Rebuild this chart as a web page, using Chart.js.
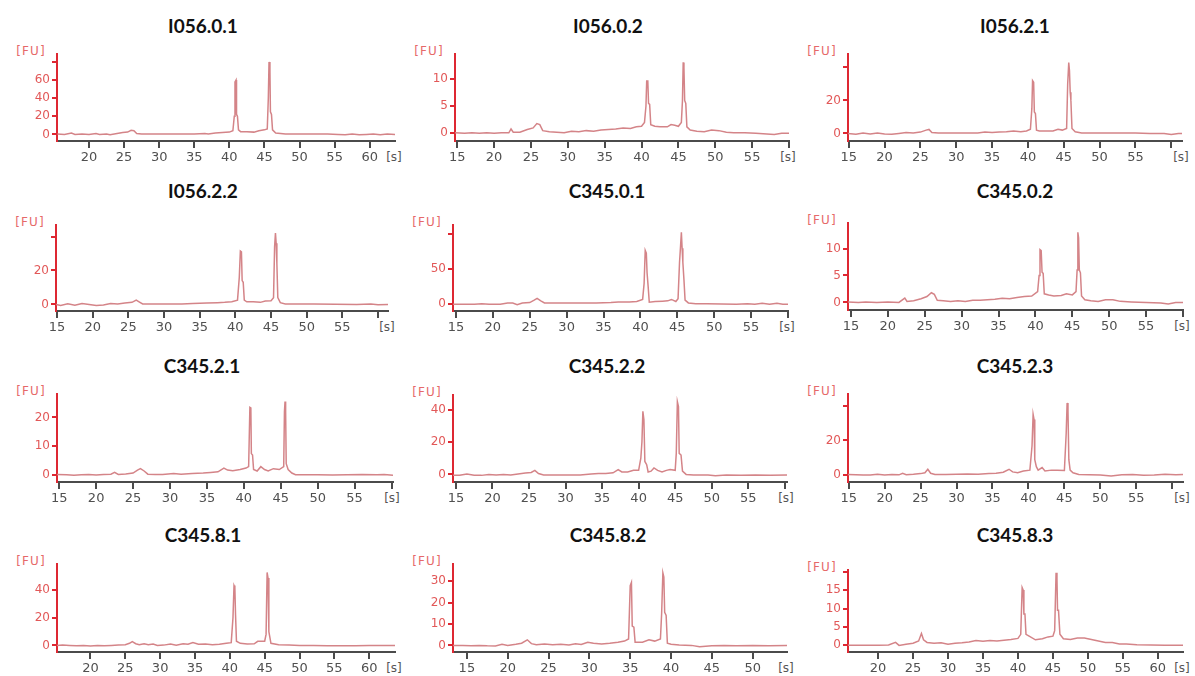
<!DOCTYPE html>
<html>
<head>
<meta charset="utf-8">
<script src="https://cdn.jsdelivr.net/npm/chart.js@4.4.0/dist/chart.umd.min.js"></script>
<style>
  body { margin: 0; background: #fff; width: 1195px; height: 676px; position: relative; overflow: hidden; font-family: 'DejaVu Sans', sans-serif; }
  .title { position: absolute; font-family: Lato, 'Open Sans', sans-serif; font-weight: bold; font-size: 19px; color: #111; transform: translate(-50%, -50%); white-space: nowrap; }
  .fu { position: absolute; font-size: 12px; letter-spacing: 1.2px; color: rgb(230, 105, 105); transform: translate(-100%, -50%); white-space: nowrap; }
  .sec { position: absolute; font-size: 12px; color: rgb(85, 85, 85); transform: translate(-50%, -50%); white-space: nowrap; }
  .box { position: absolute; }
</style>
</head>
<body>
<script>
// panel names, row by row
const panelTitles = ['I056.0.1', 'I056.0.2', 'I056.2.1',
                     'I056.2.2', 'C345.0.1', 'C345.0.2',
                     'C345.2.1', 'C345.2.2', 'C345.2.3',
                     'C345.8.1', 'C345.8.2', 'C345.8.3'];

// y ticks ('' = tick mark without a label)
const yTickVals = [[0, 20, 40, 60, 80], [0, 5, 10], [0, 20, 40],
                   [0, 20, 40], [0, 50, 100], [0, 5, 10],
                   [0, 10, 20], [0, 20, 40], [0, 20, 40],
                   [0, 20, 40], [0, 10, 20, 30], [0, 5, 10, 15, 20]];
const yTickText = [['0', '20', '40', '60', ''], ['0', '5', '10'], ['0', '20', ''],
                   ['0', '20', ''], ['0', '50', ''], ['0', '5', '10'],
                   ['0', '10', '20'], ['0', '20', '40'], ['0', '20', ''],
                   ['0', '20', '40'], ['0', '10', '20', '30'], ['0', '5', '10', '15', '']];

// x ticks in seconds
const xTicks20to60 = [20, 25, 30, 35, 40, 45, 50, 55, 60];
const xText20to60 = ['20', '25', '30', '35', '40', '45', '50', '55', '60'];
const xTicks15to60 = [15, 20, 25, 30, 35, 40, 45, 50, 55, 60];
const xText15to55 = ['15', '20', '25', '30', '35', '40', '45', '50', '55', ''];
const xTicks15to50 = [15, 20, 25, 30, 35, 40, 45, 50];
const xText15to50 = ['15', '20', '25', '30', '35', '40', '45', '50'];

// traces: [time s, FU]
const traceI056_01 = [[15.5,0.5],[16.5,0],[17.5,1.5],[18,0],[19,0.3],[20,0],[21,1],[21.5,0],[22.5,0.5],[23,-0.3],[24,1],[24.8,2],[25.5,2.5],[26,4.5],[26.4,4],[26.8,1],[27.5,0.5],[29,0.3],[31,0.5],[33,0.3],[35,0.5],[36.5,1],[37,0.5],[38,1.5],[39,2],[40,2.5],[40.5,4],[40.7,20],[40.8,58],[40.95,60],[41.02,22],[41.15,20],[41.3,5],[41.6,3],[42.5,3],[43.5,2.5],[44.2,4],[45,5],[45.4,6],[45.55,40],[45.65,80],[45.78,70],[45.85,25],[46.0,22],[46.15,5],[46.6,1.5],[48,0.5],[50,0.5],[52,0.3],[54,0.5],[55.5,0],[56.5,-0.5],[57.5,0.5],[58.5,-0.5],[59.5,0],[60.5,0.5],[61.5,-0.3],[62.5,0.5],[63.6,0]];
const traceI056_02 = [[14.7,0.1],[16,0],[17,0.1],[18,0],[19,0.1],[20,0],[21,0.1],[22,0.1],[22.3,0.8],[22.6,0.2],[23.5,0.2],[24.5,0.7],[25.3,1],[25.8,1.8],[26.2,1.6],[26.6,0.5],[27.5,0.3],[28.5,0.2],[29.5,0.1],[30.5,0.4],[31.5,0.3],[32.5,0.5],[33.5,0.4],[34.5,0.6],[35.5,0.7],[36.5,0.8],[37.5,1],[38.5,0.9],[39.3,1.2],[40,1.3],[40.4,2],[40.6,5],[40.7,9.6],[40.85,9.6],[40.95,5.5],[41.1,5.3],[41.25,1.6],[41.8,1.3],[42.5,1.2],[43.5,1.2],[44,1.6],[44.5,1.5],[45,1.3],[45.4,2],[45.55,6],[45.65,13],[45.75,12],[45.85,6],[46.0,5.5],[46.15,1.2],[46.6,0.6],[47.5,0.4],[48.5,0.3],[49.5,0.6],[50.5,0.5],[51.5,0.2],[52.5,0.1],[54,0.1],[55.5,0],[57,-0.1],[58,-0.2],[59,0],[60,0]];
const traceI056_21 = [[14.9,0],[16,-0.5],[17,0.2],[18,-0.3],[19,0.3],[20,-0.4],[21,-0.5],[22,0],[23,0.5],[24,0.3],[25,0.8],[25.8,2],[26.2,2.4],[26.6,0.5],[27.5,0.2],[29,0.2],[31,0.2],[33,0.3],[34,0.8],[35,0.5],[36,0.8],[37,1],[38,1.5],[39,1],[39.8,1.5],[40.35,2.5],[40.55,15],[40.65,32],[40.8,31],[40.9,13],[41.05,12],[41.2,2],[41.6,1.5],[42.5,1.5],[43.5,1.5],[44.2,2.5],[44.8,2],[45.4,3],[45.55,30],[45.7,43],[45.8,38],[45.9,25],[46.0,20],[46.15,3],[46.6,1],[47.5,0.3],[49,0.2],[51,0.2],[53,0.2],[55,0.2],[57,0],[59,0],[60,-0.6],[61,0],[61.5,0]];
const traceI056_22 = [[14.85,0],[15.5,-0.6],[16.5,0.3],[17.5,-0.5],[18.5,0.5],[19.5,0],[20.5,-0.6],[21.5,-0.3],[22.5,0.5],[23.5,0.3],[24.5,0.8],[25.5,1.2],[26.1,2.5],[26.5,1.5],[27,0.3],[28.5,0.2],[30.5,0.2],[32.5,0.3],[34,0.5],[35,0.7],[36,0.8],[37.5,1],[38.5,1.2],[39.5,1.5],[40.3,2.5],[40.55,16],[40.7,31.5],[40.85,31],[40.95,14],[41.1,13],[41.25,2.5],[41.6,1.5],[42.5,1.5],[43.5,1.2],[44.2,2],[45,2.2],[45.35,4],[45.5,34],[45.62,42],[45.72,36],[45.82,24],[45.95,4],[46.3,1],[47,0.3],[48.5,0.2],[51,0.2],[54,0.1],[57,0],[59,0.2],[60,-0.2],[61.4,0]];
const traceC345_01 = [[14.6,0],[16,0],[17.5,0],[18.5,1],[19.5,0],[21,0],[22,2],[22.7,2],[23.3,-0.5],[24,2],[25,2.5],[25.6,6],[26,8.5],[26.5,5],[27,2],[28,2],[30,2],[32,2],[34,2],[36,2.5],[37,3.5],[38.5,3.5],[39.5,4],[40.3,7],[40.5,30],[40.65,77],[40.8,73],[40.9,45],[41.05,25],[41.2,3],[42,4],[43,4.5],[43.7,5],[44.2,7],[44.8,4],[45.1,8],[45.3,60],[45.45,85],[45.55,103],[45.65,80],[45.75,60],[45.9,35],[46.05,6],[46.5,2],[47.5,1],[49,1],[51,0.5],[53,0],[54.5,1],[55.5,0],[56.5,1.5],[57.5,0],[58.5,1.5],[59.3,0],[60,0]];
const traceC345_02 = [[14.6,0.1],[16,0],[17,0.1],[18.5,0],[20,0.1],[21.5,0],[22.3,0.8],[22.6,0.2],[23.5,0.3],[24.5,0.7],[25.3,1.1],[25.9,1.8],[26.3,1.5],[26.7,0.4],[27.5,0.3],[28.5,0.2],[29.5,0.3],[30.5,0.2],[31.5,0.4],[32.5,0.4],[33.5,0.5],[34.5,0.6],[35.5,0.8],[36.5,0.7],[37.5,0.9],[38.5,1.1],[39.5,1.2],[40.3,2],[40.5,5],[40.62,9.8],[40.78,9.6],[40.9,5.6],[41.05,5.4],[41.2,1.6],[41.8,1.4],[42.5,1.2],[43.5,1.3],[44.2,1.6],[45,1.4],[45.5,2],[45.65,6],[45.75,13],[45.85,12],[45.95,6],[46.1,5.5],[46.25,1.2],[46.7,0.5],[47.5,0.3],[48.5,0.2],[49.5,0.5],[50.5,0.5],[51.5,0.2],[53,0.1],[55,0],[57,-0.1],[58,-0.3],[59,0],[60,0]];
const traceC345_21 = [[14.7,0.3],[16,0.2],[17,0],[18,0.2],[19,0.3],[20,0.1],[21,0.3],[22,0.4],[22.5,1],[23,0.3],[24,0.5],[25,0.8],[25.6,1.8],[26,2.3],[26.5,1.5],[27,0.4],[28,0.3],[29,0.3],[30.5,0.6],[31.5,0.4],[33,0.6],[34.5,0.8],[35.5,1],[36.5,1.2],[37.3,2.5],[37.8,1.8],[38.5,1.6],[39.5,2],[40.3,2.5],[40.65,3],[40.82,23.5],[40.95,23.3],[41.02,7.5],[41.18,7],[41.32,2],[41.8,1.5],[42.3,3],[42.8,2],[43.3,1.5],[44,2.3],[44.8,2],[45.4,3],[45.5,22],[45.58,25.5],[45.66,22],[45.74,4],[46,2],[46.5,0.8],[47,0.2],[48,0.2],[50,0.2],[52,0.1],[54,0.2],[56,0.3],[58,0.2],[59,0.3],[60.2,0]];
const traceC345_22 = [[14.6,-0.5],[15.5,-0.5],[16.5,0.2],[17.5,-0.5],[18.5,-0.6],[19.5,0],[20.5,-0.3],[21.5,0],[22.5,-0.3],[23.5,0.3],[24.5,0.8],[25.3,1.2],[25.8,2.5],[26.3,0.5],[27,-0.3],[28,-0.3],[30,-0.3],[32,-0.3],[33.5,0.3],[34.5,0.5],[35.5,0.6],[36.5,1],[37.2,3],[37.7,1.5],[38.5,1.5],[39.3,2.5],[40,2.5],[40.3,10],[40.45,20],[40.58,39],[40.72,34],[40.85,8],[41.1,6],[41.3,1.5],[41.7,2],[42.1,4],[42.6,2.5],[43.2,1.5],[43.8,2.5],[44.3,3],[45,2.5],[45.15,13],[45.3,45],[45.45,42],[45.55,13],[45.8,12],[46,2],[46.5,0],[47.5,-0.3],[49.5,-0.3],[50.5,-0.8],[52,-0.3],[54,-0.5],[56,-0.3],[58,-0.5],[60.3,-0.3]];
const traceC345_23 = [[14.9,0.5],[16,0.3],[17,0.2],[18,0.2],[19,0.6],[20,0.2],[21,0.5],[22,0.3],[22.5,1.2],[23,0.4],[24,0.6],[25,1],[25.6,1.5],[26,3.5],[26.4,1.2],[27,0.5],[28.5,0.5],[30,0.6],[31.5,0.8],[33,0.7],[34.5,1],[35.5,1.2],[36.5,1.8],[37.3,3.5],[37.8,2],[38.5,1.5],[39.3,2.5],[40.2,3],[40.5,17],[40.65,35],[40.78,32],[40.88,9],[41.1,5],[41.35,3],[41.9,4.5],[42.3,2.5],[43.2,3],[44,3],[45,2.8],[45.25,24],[45.38,41.5],[45.5,37],[45.62,9],[45.8,3],[46.2,1.5],[47,0.5],[48.5,0.4],[50,0.2],[51.5,-0.4],[53,0.3],[54.5,0.5],[56,0],[57.5,0.2],[59,0.6],[60.5,0.3],[61.5,0.5]];
const traceC345_81 = [[15.2,0],[16,0.2],[17,0],[18,-0.3],[19,0],[20,-0.5],[21,0],[22,-0.3],[23,0],[24,0.2],[25,0.5],[25.6,1.5],[26,2.8],[26.5,1.2],[27,0.5],[27.7,1.2],[28.3,0.5],[29,1],[29.6,0],[30.5,0.2],[31.5,1],[32.3,0.2],[33.3,1.2],[34,0.8],[34.7,2],[35.5,0.8],[36.5,1],[37.5,0.5],[38.5,0.8],[39.5,1.5],[40.2,2],[40.45,20],[40.6,43.5],[40.72,42],[40.82,22],[40.95,3],[41.5,1.5],[42.5,1],[43.5,1.2],[44,3],[45,3],[45.2,8],[45.35,53],[45.48,49],[45.6,10],[45.9,1.5],[47,0.5],[48.5,0.2],[50,0],[52,0],[54,-0.3],[56,-0.3],[58,-0.3],[60,0],[62,0],[63.7,0]];
const traceC345_82 = [[13.3,0],[14.5,0],[15.5,-0.2],[16.5,0],[17.5,-0.2],[18.5,-0.3],[19.3,0.5],[20,0],[21,0.5],[21.7,1],[22.4,2.6],[22.9,0.8],[23.5,0.3],[24.5,0.6],[25.5,0.3],[26.5,0.5],[27.5,0.2],[28.3,0.8],[29,0.4],[29.8,1.5],[30.5,1],[31.5,0.7],[32.5,1],[33.5,1.5],[34.3,2],[34.8,3],[35.0,28],[35.15,29.5],[35.25,9],[35.45,8.5],[35.6,1.5],[36.5,1.5],[37.3,2.6],[38,2],[38.7,3],[38.85,15],[39.0,34],[39.12,32],[39.22,15.5],[39.4,14],[39.55,1],[40,0.5],[41,0.2],[42.5,0],[43.5,-0.6],[45,-0.2],[46.5,0],[48,-0.2],[50,0],[52,-0.2],[54.2,0]];
const traceC345_83 = [[15.7,0],[17,0],[18.5,0],[20,0],[21.5,0.1],[22.5,0.8],[23,0],[24,0.3],[25,0.6],[25.8,1.2],[26.2,3.2],[26.5,1.5],[27,0.8],[28,0.6],[29,0.7],[30,0.3],[31,0.6],[32,0.7],[33,0.9],[34,1.3],[35,1.1],[36,1.3],[37,1.2],[38,1.4],[39,1.6],[40,1.9],[40.4,3],[40.6,15.7],[40.75,15],[40.85,8.5],[41.0,8.5],[41.15,3],[41.6,2.5],[42.5,1.5],[43.5,1.8],[44.3,2.3],[45,2.5],[45.25,4],[45.45,19.7],[45.58,18],[45.66,9.5],[45.8,9.5],[46,3],[46.5,1.8],[47.5,1.6],[48.5,2],[49.5,2],[50.5,1.6],[51.5,1.2],[52.5,0.8],[53.5,0.8],[54.5,0.4],[55.5,0.4],[57,0.2],[59,0.1],[61,0],[63.6,0]];

const traces = [traceI056_01, traceI056_02, traceI056_21,
                traceI056_22, traceC345_01, traceC345_02,
                traceC345_21, traceC345_22, traceC345_23,
                traceC345_81, traceC345_82, traceC345_83];
const xTickVals = [xTicks20to60, xTicks15to60, xTicks15to60,
                   xTicks15to60, xTicks15to60, xTicks15to60,
                   xTicks15to60, xTicks15to60, xTicks15to60,
                   xTicks20to60, xTicks15to50, xTicks20to60];
const xTickText = [xText20to60, xText15to55, xText15to55,
                   xText15to55, xText15to55, xText15to55,
                   xText15to55, xText15to55, xText15to55,
                   xText20to60, xText15to50, xText20to60];

// layout: axis box in page pixels, axis ranges, title centre
const frames = [
    { l: 57, r: 395, t: 49, b: 141, x0: 15.44, x1: 63.6, y0: -7.3, y1: 88.5, tx: 203, ty: 25 },
    { l: 455, r: 789, t: 49, b: 141, x0: 14.7, x1: 60, y0: -1.4, y1: 14.5, tx: 608, ty: 25 },
    { l: 848, r: 1182, t: 49, b: 141, x0: 14.9, x1: 61.5, y0: -4.6, y1: 48, tx: 1015, ty: 25 },
    { l: 56, r: 388, t: 220, b: 311, x0: 14.85, x1: 61.4, y0: -3.9, y1: 46.7, tx: 203, ty: 190 },
    { l: 453, r: 788, t: 220, b: 311, x0: 14.6, x1: 60, y0: -9.5, y1: 113, tx: 607, ty: 190 },
    { l: 848, r: 1183, t: 218, b: 310, x0: 14.6, x1: 60, y0: -1.4, y1: 14.7, tx: 1015, ty: 190 },
    { l: 57, r: 393, t: 389, b: 482, x0: 14.7, x1: 60.2, y0: -2.3, y1: 28, tx: 202, ty: 365 },
    { l: 453, r: 787, t: 390, b: 482, x0: 14.6, x1: 60.3, y0: -4.7, y1: 49, tx: 607, ty: 365 },
    { l: 848, r: 1183, t: 389, b: 482, x0: 14.9, x1: 61.5, y0: -3.8, y1: 46.5, tx: 1015, ty: 365 },
    { l: 57, r: 395, t: 559, b: 652, x0: 15.2, x1: 63.7, y0: -4.8, y1: 59, tx: 203, ty: 534 },
    { l: 453, r: 787, t: 559, b: 652, x0: 13.3, x1: 54.2, y0: -3.1, y1: 38, tx: 608, ty: 534 },
    { l: 848, r: 1183, t: 565, b: 652, x0: 15.7, x1: 63.6, y0: -1.8, y1: 20.4, tx: 1015, ty: 534 }
];

const traceColor = 'rgb(212, 132, 136)';
const yAxisColor = 'rgb(222, 40, 50)';
const yLabelColor = 'rgb(226, 88, 88)';
const xAxisColor = 'rgb(75, 75, 75)';

function addText(cls, text, x, y) {
    const d = document.createElement('div');
    d.className = cls;
    d.textContent = text;
    d.style.left = x + 'px';
    d.style.top = y + 'px';
    document.body.appendChild(d);
}

const Y_W = 50, X_H = 30, PAD = 4;

panelTitles.forEach((name, i) => {
    const f = frames[i];
    addText('title', name, f.tx, f.ty);
    addText('fu', '[FU]', f.l - 11, f.t + 2);
    addText('sec', '[s]', f.r - 1, f.b + 16);

    const left = f.l - Y_W, top = f.t - PAD;
    const w = f.r + PAD - left, h = f.b + X_H - top;
    const box = document.createElement('div');
    box.className = 'box';
    box.style.left = left + 'px';
    box.style.top = top + 'px';
    const canvas = document.createElement('canvas');
    canvas.width = w;
    canvas.height = h;
    box.appendChild(canvas);
    document.body.appendChild(box);

    new Chart(canvas, {
        type: 'line',
        data: {
            datasets: [{
                data: traces[i].map(p => ({ x: p[0], y: p[1] })),
                borderColor: traceColor,
                borderWidth: 1.5,
                pointRadius: 0,
                tension: 0,
                fill: false
            }]
        },
        options: {
            responsive: false,
            animation: false,
            events: [],
            layout: { padding: { top: PAD, right: PAD, left: 0, bottom: 0 } },
            plugins: { legend: { display: false }, tooltip: { enabled: false } },
            scales: {
                x: {
                    type: 'linear',
                    min: f.x0,
                    max: f.x1,
                    afterBuildTicks: ax => { ax.ticks = xTickVals[i].map(v => ({ value: v })); },
                    afterFit: ax => { ax.height = X_H; },
                    ticks: {
                        autoSkip: false,
                        maxRotation: 0,
                        padding: 2,
                        color: 'rgb(80, 80, 80)',
                        font: { family: 'DejaVu Sans', size: 13 },
                        callback: (v, idx) => xTickText[i][idx]
                    },
                    grid: { drawOnChartArea: false, drawTicks: true, tickLength: 7, color: xAxisColor, lineWidth: 2 },
                    border: { display: true, color: xAxisColor, width: 2 }
                },
                y: {
                    type: 'linear',
                    min: f.y0,
                    max: f.y1,
                    afterBuildTicks: ax => { ax.ticks = yTickVals[i].map(v => ({ value: v })); },
                    afterFit: ax => { ax.width = Y_W; },
                    ticks: {
                        autoSkip: false,
                        padding: 2,
                        color: yLabelColor,
                        font: { family: 'DejaVu Sans', size: 12 },
                        callback: (v, idx) => yTickText[i][idx]
                    },
                    grid: { drawOnChartArea: false, drawTicks: true, tickLength: 5, color: yAxisColor, lineWidth: 2 },
                    border: { display: true, color: yAxisColor, width: 2 }
                }
            }
        }
    });
});
</script>
</body>
</html>
